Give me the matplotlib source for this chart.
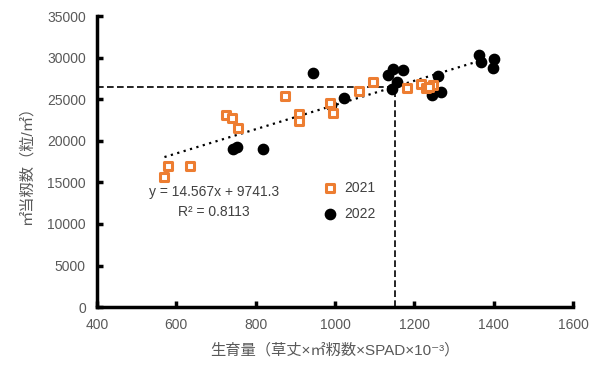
import numpy as np
import matplotlib
matplotlib.use('Agg')
import matplotlib.pyplot as plt

plt.rcParams['font.family'] = ['Liberation Sans', 'Noto Sans CJK JP', 'DejaVu Sans']

# 2021 data (orange squares)
x_2021 = [570, 580, 635, 725, 740, 755, 874, 909, 909, 987, 995, 1060, 1096,
          1181, 1217, 1229, 1247, 1238]
y_2021 = [15700, 17000, 17000, 23100, 22800, 21500, 25400, 23200, 22400, 24500,
          23300, 26000, 27100, 26300, 26800, 26300, 26700, 26500]

# 2022 data (black circles)
x_2022 = [743, 753, 818, 944, 990, 1023, 1134, 1146, 1171, 1156, 1144,
          1260, 1245, 1267, 1363, 1368, 1401, 1398]
y_2022 = [19000, 19200, 19000, 28100, 24300, 25100, 27900, 28600, 28500, 27100, 26200,
          27800, 25500, 25900, 30300, 29500, 29900, 28700]

# fitted line
slope, intercept = 14.567, 9741.3
fit_range = [570, 1400]
x_ref = 1150

gray = '#595959'
orange = '#ED7D31'

fig = plt.figure(figsize=(5.89, 3.66), dpi=100)
ax = fig.add_axes([0.1647, 0.161, 0.8083, 0.795])

xf = np.array(fit_range)
ax.plot(xf, slope * xf + intercept, linestyle=(0, (1, 2)), color='black', lw=1.6, zorder=2)

y_ref = slope * x_ref + intercept
ax.plot([400, x_ref], [y_ref, y_ref], linestyle=(0, (4, 2)), color='black', lw=1.2, zorder=1)
ax.plot([x_ref, x_ref], [0, y_ref], linestyle=(0, (4, 2)), color='black', lw=1.2, zorder=1)

ax.scatter(x_2022, y_2022, s=55, color='black', marker='o', label='2022', zorder=3)
ax.scatter(x_2021, y_2021, s=40, facecolor='white', edgecolor=orange, linewidth=2.2,
           marker='s', label='2021', zorder=4)

ax.set_xlim(400, 1600)
ax.set_ylim(0, 35000)
ax.set_xticks(np.arange(400, 1601, 200))
ax.set_yticks(np.arange(0, 35001, 5000))

for s in ['top', 'right']:
    ax.spines[s].set_visible(False)
for s in ['left', 'bottom']:
    ax.spines[s].set_linewidth(2.5)
ax.tick_params(direction='in', length=4, width=2.5, labelsize=10, labelcolor=gray, pad=8)

ax.set_xlabel('生育量（草丈×㎡籾数×SPAD×10⁻³）', fontsize=11, color=gray, labelpad=8)
ax.set_ylabel('㎡当籾数（粒/㎡）', fontsize=11, color=gray, labelpad=10)

ax.text(695, 12650, 'y = 14.567x + 9741.3\nR² = 0.8113', fontsize=10, color='#404040',
        ha='center', va='center', linespacing=1.5)

handles, labels = ax.get_legend_handles_labels()
ax.legend(handles[::-1], labels[::-1], loc='center left', bbox_to_anchor=(0.435, 0.365),
          frameon=False, fontsize=10, handletextpad=0.0, labelspacing=0.9, labelcolor='#404040')

fig.savefig('out.png', dpi=100)
